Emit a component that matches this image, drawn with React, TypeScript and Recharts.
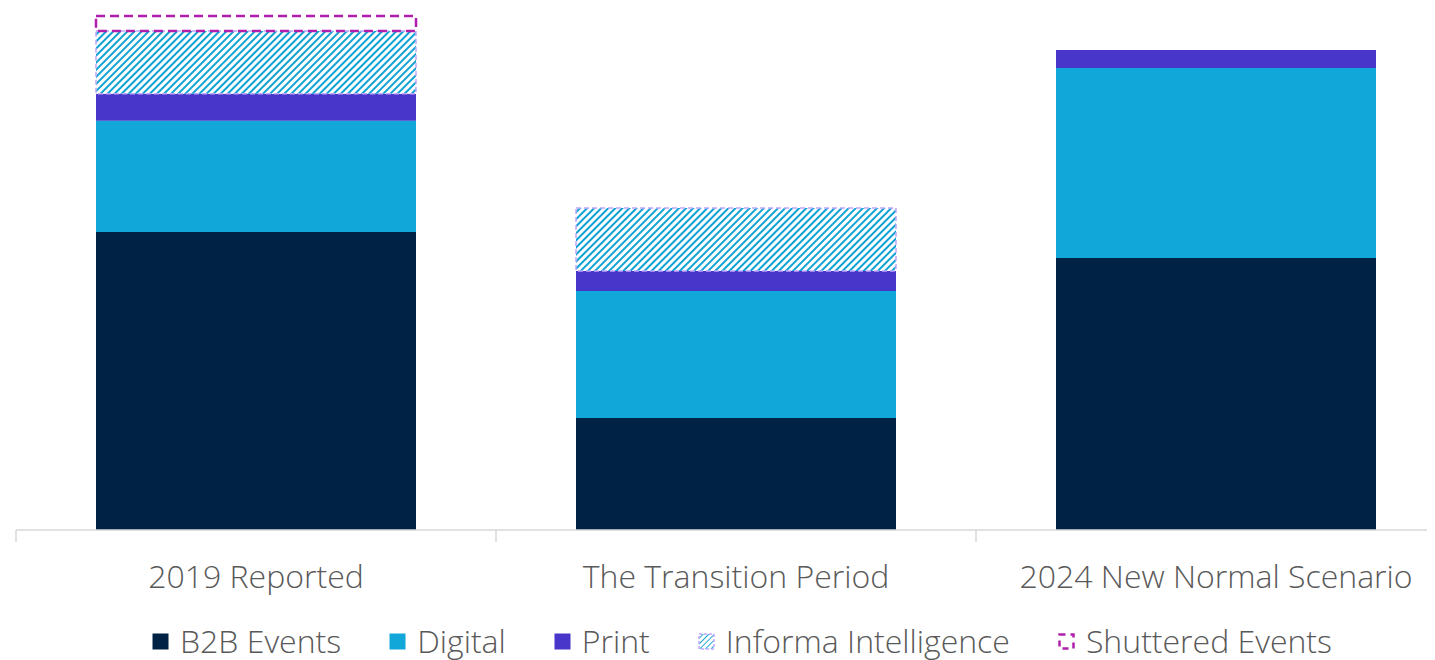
import React from "react";
import { BarChart, Bar, XAxis, YAxis, Legend } from "recharts";

const categories = ["2019 Reported", "The Transition Period", "2024 New Normal Scenario"];
const b2bEvents = [58.0, 21.8, 52.9];
const digital = [21.6, 24.7, 37.0];
const print = [5.25, 3.9, 3.5];
const informaIntelligence = [12.25, 12.25, 0];
const shutteredEvents = [2.9, 0, 0];

const seriesNames = ["B2B Events", "Digital", "Print", "Informa Intelligence", "Shuttered Events"];

const data = categories.map((c, i) => ({
  name: c,
  b2b: b2bEvents[i],
  digital: digital[i],
  print: print[i],
  informa: informaIntelligence[i],
  shuttered: shutteredEvents[i],
}));

const TEXT = "#595959";
const FONT = "'Open Sans', sans-serif";
const BAND = 480;

const Tick = (props: any) => {
  const { x, y, payload, index } = props;
  return (
    <g>
      <line x1={x - BAND / 2} x2={x - BAND / 2} y1={y} y2={y + 12} stroke="#d9d9d9" strokeWidth={1.5} />
      {index === categories.length - 1 && (
        <line x1={x + BAND / 2} x2={x + BAND / 2} y1={y} y2={y + 12} stroke="#d9d9d9" strokeWidth={1.5} />
      )}
      <text x={x} y={y + 58} textAnchor="middle" fill={TEXT} fontSize={32} fontWeight={300} fontFamily={FONT}>
        {payload.value}
      </text>
    </g>
  );
};

const LegendContent = () => {
  const icon = (i: number) => {
    if (i === 0) return <rect x={0.5} y={0.5} width={16} height={16} fill="#002244" />;
    if (i === 1) return <rect x={0.5} y={0.5} width={16} height={16} fill="#11a7d8" />;
    if (i === 2) return <rect x={0.5} y={0.5} width={16} height={16} fill="#4835c9" />;
    if (i === 3)
      return (
        <rect x={1} y={1} width={15} height={15} fill="url(#hatchLegend)" stroke="#c3a6ff" strokeWidth={1.5} strokeDasharray="3 2" />
      );
    return <rect x={1.5} y={1.5} width={14} height={14} fill="none" stroke="#b01fab" strokeWidth={2.5} strokeDasharray="6 5" />;
  };
  return (
    <div
      style={{
        display: "flex",
        justifyContent: "center",
        gap: 48,
        fontFamily: FONT,
        fontSize: 32,
        fontWeight: 300,
        color: TEXT,
        paddingLeft: 12,
        marginTop: -3,
        lineHeight: "40px",
      }}
    >
      {seriesNames.map((n, i) => (
        <div key={n} style={{ display: "flex", alignItems: "center", whiteSpace: "nowrap" }}>
          <svg width={17} height={17} style={{ marginRight: 11 }}>
            <defs>
              <pattern id="hatchLegend" width={4} height={4} patternUnits="userSpaceOnUse" patternTransform="rotate(45)">
                <rect width={4} height={4} fill="#fff" />
                <line x1={0} y1={0} x2={0} y2={4} stroke="#0a9fd0" strokeWidth={1.8} />
              </pattern>
            </defs>
            {icon(i)}
          </svg>
          <span>{n}</span>
        </div>
      ))}
    </div>
  );
};

export default function App() {
  return (
    <div style={{ width: 1427, height: 652, overflow: "hidden" }}>
      <BarChart width={1448} height={652} data={data} margin={{ top: 8, right: 0, left: 8, bottom: 0 }} barSize={320}>
        <defs>
          <pattern id="hatch" width={5} height={5} patternUnits="userSpaceOnUse" patternTransform="rotate(45)">
            <rect width={5} height={5} fill="#fff" />
            <line x1={1} y1={0} x2={1} y2={5} stroke="#0ea3d4" strokeWidth={2} />
          </pattern>
        </defs>
        <XAxis
          dataKey="name"
          axisLine={{ stroke: "#d9d9d9", strokeWidth: 1.5 }}
          tickLine={false}
          tickSize={0}
          tickMargin={0}
          height={94}
          tick={<Tick />}
          interval={0}
        />
        <YAxis hide domain={[0, 100]} />
        <Legend verticalAlign="bottom" height={36} content={<LegendContent />} />
        <Bar dataKey="b2b" name={seriesNames[0]} stackId="a" fill="#002244" isAnimationActive={false} />
        <Bar dataKey="digital" name={seriesNames[1]} stackId="a" fill="#11a7d8" isAnimationActive={false} />
        <Bar dataKey="print" name={seriesNames[2]} stackId="a" fill="#4835c9" isAnimationActive={false} />
        <Bar
          dataKey="informa"
          name={seriesNames[3]}
          stackId="a"
          fill="url(#hatch)"
          stroke="#c3a6ff"
          strokeWidth={1.5}
          strokeDasharray="5 3"
          isAnimationActive={false}
        />
        <Bar
          dataKey="shuttered"
          name={seriesNames[4]}
          stackId="a"
          fill="none"
          stroke="#b01fab"
          strokeWidth={2.5}
          strokeDasharray="9 5"
          isAnimationActive={false}
        />
      </BarChart>
    </div>
  );
}
